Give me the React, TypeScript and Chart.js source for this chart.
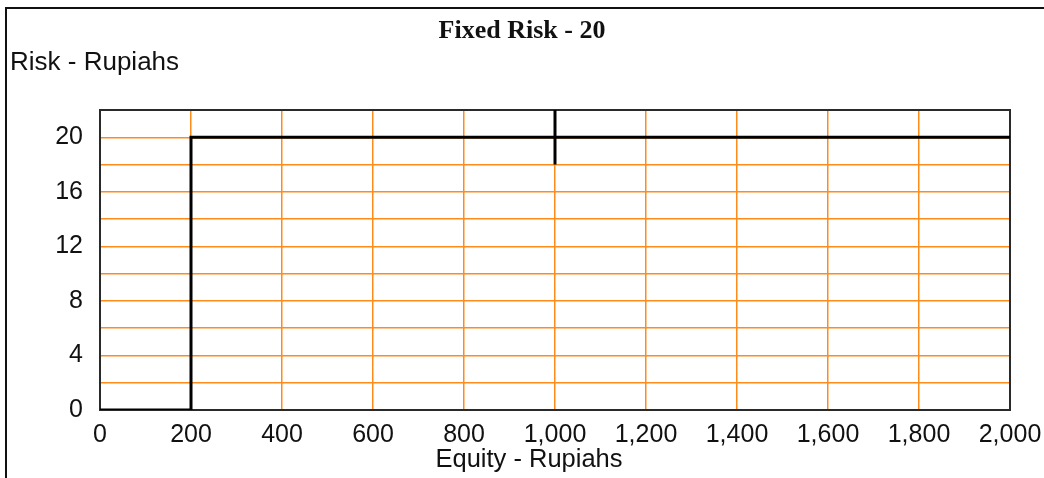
import React, { useEffect, useRef } from "react";
import { Chart, registerables } from "chart.js";

Chart.register(...registerables);

const equity = [0, 200, 200, 2000];
const risk = [0, 0, 20, 20];
const markerEquity = [1000, 1000];
const markerRisk = [18, 22];

const titleText = "Fixed Risk - 20";
const yTitle = "Risk - Rupiahs";
const xTitle = "Equity - Rupiahs";

const SANS = "'Liberation Sans', Arial, sans-serif";
const SERIF = "'Liberation Serif', 'Times New Roman', serif";

const decorPlugin = {
  id: "decor",
  beforeDatasetsDraw(chart: any) {
    const { ctx, chartArea } = chart;
    ctx.save();
    ctx.strokeStyle = "#2a2a2a";
    ctx.lineWidth = 2;
    ctx.strokeRect(chartArea.left, chartArea.top, chartArea.right - chartArea.left, chartArea.bottom - chartArea.top);
    ctx.restore();
  },
  afterDraw(chart: any) {
    const { ctx, width, height, chartArea } = chart;
    ctx.save();
    ctx.strokeStyle = "#111111";
    ctx.lineWidth = 2;
    ctx.beginPath();
    ctx.moveTo(width, 8);
    ctx.lineTo(6, 8);
    ctx.lineTo(6, height);
    ctx.stroke();
    ctx.fillStyle = "#111111";
    ctx.font = `bold 26px ${SERIF}`;
    ctx.textAlign = "center";
    ctx.textBaseline = "alphabetic";
    ctx.fillText(titleText, 522, 38);
    ctx.font = `26px ${SANS}`;
    ctx.textAlign = "left";
    ctx.fillText(yTitle, 10, 70);
    ctx.font = `25.5px ${SANS}`;
    ctx.textAlign = "center";
    ctx.fillText(xTitle, 529, 467);
    ctx.restore();
  },
};

export default function App() {
  const ref = useRef<HTMLCanvasElement>(null);
  useEffect(() => {
    if (!ref.current) return;
    const chart = new Chart(ref.current, {
      type: "scatter",
      data: {
        datasets: [
          {
            data: equity.map((x, i) => ({ x, y: risk[i] })),
            showLine: true,
            borderColor: "#000000",
            borderWidth: 3,
            pointRadius: 0,
            tension: 0,
          },
          {
            data: markerEquity.map((x, i) => ({ x, y: markerRisk[i] })),
            showLine: true,
            borderColor: "#000000",
            borderWidth: 3,
            pointRadius: 0,
          },
        ],
      },
      options: {
        responsive: false,
        animation: false,
        devicePixelRatio: 1,
        layout: { padding: { top: 110, right: 34, left: 0, bottom: 0 } },
        plugins: { legend: { display: false }, tooltip: { enabled: false }, title: { display: false } },
        scales: {
          x: {
            type: "linear",
            min: 0,
            max: 2000,
            afterFit: (s: any) => { s.height = 68; s.paddingLeft = 0; s.paddingRight = 0; },
            border: { display: false },
            grid: { color: "#FF8C1A", lineWidth: 1.5, drawTicks: false },
            ticks: {
              stepSize: 200,
              padding: 10,
              color: "#111111",
              font: { family: SANS, size: 25 },
              maxRotation: 0,
              autoSkip: false,
              callback: (v: any) => Number(v).toLocaleString("en-US"),
            },
          },
          y: {
            type: "linear",
            min: 0,
            max: 22,
            afterFit: (s: any) => { s.width = 100; s.paddingTop = 0; s.paddingBottom = 0; },
            border: { display: false },
            grid: { color: "#FF8C1A", lineWidth: 1.5, drawTicks: false },
            ticks: {
              stepSize: 2,
              padding: 17,
              color: "#111111",
              font: { family: SANS, size: 25 },
              autoSkip: false,
              callback: (v: any) => (Number(v) % 4 === 0 ? String(v) : ""),
            },
          },
        },
      },
      plugins: [decorPlugin],
    });
    return () => chart.destroy();
  }, []);
  return (
    <div style={{ position: "fixed", left: 0, top: 0, width: 1044, height: 478, background: "#fff" }}>
      <canvas ref={ref} width={1044} height={478} style={{ display: "block" }} />
    </div>
  );
}
